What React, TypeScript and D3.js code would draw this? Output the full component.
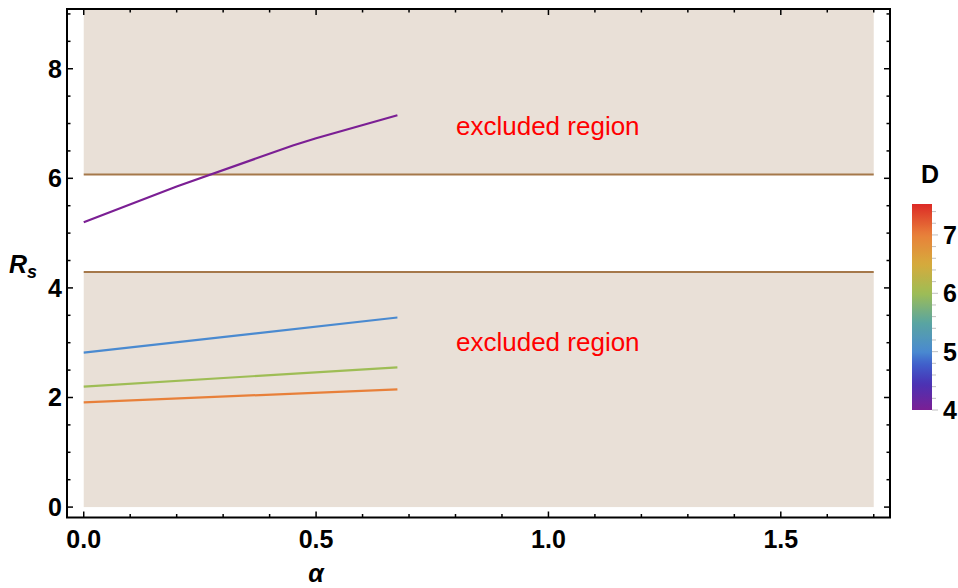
import React from 'react';
import * as d3 from 'd3';

// curves of R_s against alpha, one per D
const alphaD4 = [0, 0.2, 0.45, 0.5, 0.675];
const rsD4 = [5.2, 5.85, 6.6, 6.73, 7.15];
const alphaShort = [0, 0.675];
const rsD5 = [2.82, 3.46];
const rsD6 = [2.2, 2.55];
const rsD7 = [1.91, 2.15];
const curveD = [4, 5, 6, 7];

// allowed band and the shaded excluded area
const bandUpper = 6.07;
const bandLower = 4.29;
const regionAlpha = [0, 1.7];
const regionRs = [0, 9.1];

const xMajor = [0, 0.5, 1, 1.5];
const xMajorLabels = ['0.0', '0.5', '1.0', '1.5'];
const yMajor = [0, 2, 4, 6, 8];
const cbMajor = [4, 5, 6, 7];

// colour map of D
const cmapD = [4, 4.45, 4.8, 5, 5.5, 6, 6.5, 7, 7.53];
const cmapColors = ['#7b1f94', '#4a32b4', '#3f62cc', '#4a8ad0', '#5aa5a0', '#9ebd55', '#d6aa3c', '#e8803a', '#dc2a26'];

const App = () => {
  const W = 958, H = 588;
  const left = 67, right = 890, top = 9, bottom = 517.5;

  const x = d3.scaleLinear().domain([-0.036, 1.735]).range([left, right]);
  const y = d3.scaleLinear().domain([-0.19, 9.09]).range([bottom, top]);
  const color = d3.scaleLinear<string>().domain(cmapD).range(cmapColors).interpolate(d3.interpolateRgb);

  const cb = d3.scaleLinear().domain([4, 7.53]).range([410, 204]);
  const cbX = 912, cbW = 20;

  const line = d3.line<[number, number]>().x(d => x(d[0])).y(d => y(d[1]));
  const curves = [
    alphaD4.map((a, i) => [a, rsD4[i]] as [number, number]),
    alphaShort.map((a, i) => [a, rsD5[i]] as [number, number]),
    alphaShort.map((a, i) => [a, rsD6[i]] as [number, number]),
    alphaShort.map((a, i) => [a, rsD7[i]] as [number, number]),
  ];

  const xMinor = d3.range(0, 1.7001, 0.1);
  const yMinor = d3.range(0, 9.001, 0.5);
  const cbMinor = d3.range(4, 7.53, 0.2);
  const gradStops = d3.range(0, 1.0001, 0.02);

  const font = 'Liberation Sans, Arial, sans-serif';

  return (
    <svg width={W} height={H} style={{ position: 'absolute', left: 0, top: 0 }}>
      <defs>
        <linearGradient id="cbGrad" x1="0" y1="1" x2="0" y2="0">
          {gradStops.map(t => (
            <stop key={t} offset={t} stopColor={color(4 + t * 3.53)} />
          ))}
        </linearGradient>
      </defs>

      {/* excluded regions */}
      <rect x={x(regionAlpha[0])} y={y(regionRs[1])} width={x(regionAlpha[1]) - x(regionAlpha[0])}
        height={y(bandUpper) - y(regionRs[1])} fill="#e9e0d7" />
      <rect x={x(regionAlpha[0])} y={y(bandLower)} width={x(regionAlpha[1]) - x(regionAlpha[0])}
        height={y(regionRs[0]) - y(bandLower)} fill="#e9e0d7" />
      {[bandUpper, bandLower].map(v => (
        <line key={v} x1={x(regionAlpha[0])} x2={x(regionAlpha[1])} y1={y(v)} y2={y(v)} stroke="#a5784a" strokeWidth={2} />
      ))}

      {curves.map((c, i) => (
        <path key={i} d={line(c) ?? ''} fill="none" stroke={color(curveD[i])} strokeWidth={2.2} />
      ))}

      <text x={456} y={135} fontFamily={font} fontSize={26} fill="#ff0000">excluded region</text>
      <text x={456} y={351} fontFamily={font} fontSize={26} fill="#ff0000">excluded region</text>

      {/* frame and ticks */}
      <rect x={left} y={top} width={right - left} height={bottom - top} fill="none" stroke="#000" strokeWidth={2} />
      {xMinor.map(v => {
        const major = xMajor.some(m => Math.abs(m - v) < 1e-6);
        const len = major ? 6 : 3.5;
        return (
          <g key={'x' + v}>
            <line x1={x(v)} x2={x(v)} y1={bottom} y2={bottom - len} stroke="#000" strokeWidth={1.5} />
            <line x1={x(v)} x2={x(v)} y1={top} y2={top + len} stroke="#000" strokeWidth={1.5} />
          </g>
        );
      })}
      {yMinor.map(v => {
        const major = yMajor.some(m => Math.abs(m - v) < 1e-6);
        const len = major ? 6 : 3.5;
        return (
          <g key={'y' + v}>
            <line x1={left} x2={left + len} y1={y(v)} y2={y(v)} stroke="#000" strokeWidth={1.5} />
            <line x1={right} x2={right - len} y1={y(v)} y2={y(v)} stroke="#000" strokeWidth={1.5} />
          </g>
        );
      })}
      {xMajor.map((v, i) => (
        <text key={'xl' + v} x={x(v)} y={548} textAnchor="middle" fontFamily={font} fontWeight="bold" fontSize={25}>{xMajorLabels[i]}</text>
      ))}
      {yMajor.map(v => (
        <text key={'yl' + v} x={62} y={y(v)} dy="0.36em" textAnchor="end" fontFamily={font} fontWeight="bold" fontSize={25}>{v}</text>
      ))}

      {/* axis titles */}
      <text x={9} y={273} fontFamily={font} fontWeight="bold" fontStyle="italic" fontSize={25}>
        R<tspan fontSize={18} dy={5}>s</tspan>
      </text>
      <text x={316} y={582} textAnchor="middle" fontFamily={font} fontWeight="bold" fontStyle="italic" fontSize={25}>α</text>

      {/* colour bar */}
      <text x={930} y={183} textAnchor="middle" fontFamily={font} fontWeight="bold" fontSize={25}>D</text>
      <rect x={cbX} y={cb(7.53)} width={cbW} height={cb(4) - cb(7.53)} fill="url(#cbGrad)" />
      {cbMinor.map(v => {
        const major = cbMajor.some(m => Math.abs(m - v) < 1e-6);
        return (
          <line key={'c' + v} x1={cbX + cbW} x2={cbX + cbW + (major ? 6 : 4)} y1={cb(v)} y2={cb(v)} stroke="#c0c0c0" strokeWidth={1} />
        );
      })}
      {cbMajor.map(v => (
        <text key={'cl' + v} x={943} y={cb(v)} dy="0.36em" fontFamily={font} fontWeight="bold" fontSize={25}>{v}</text>
      ))}
    </svg>
  );
};

export default App;
